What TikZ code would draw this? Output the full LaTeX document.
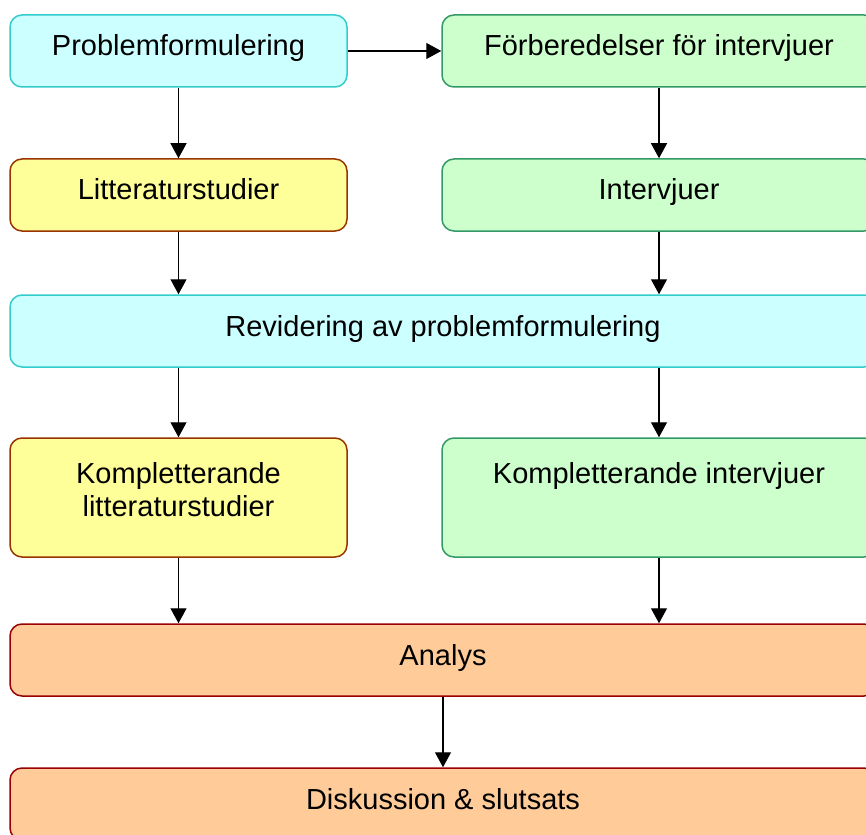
\documentclass[tikz,border=0pt]{standalone}
\usepackage{fontspec}
\setmainfont{Liberation Sans}
\usetikzlibrary{arrows.meta}

\definecolor{cyanfill}{HTML}{CCFFFF}
\definecolor{cyanline}{HTML}{33CCCC}
\definecolor{greenfill}{HTML}{CCFFCC}
\definecolor{greenline}{HTML}{339966}
\definecolor{yellowfill}{HTML}{FFFF99}
\definecolor{yellowline}{HTML}{993300}
\definecolor{orangefill}{HTML}{FFCC99}
\definecolor{orangeline}{HTML}{990000}

\tikzset{
  box/.style={rectangle, rounded corners=12pt, line width=1.5pt,
    inner sep=0pt, minimum height=72pt,
    font=\fontsize{29}{33}\selectfont, text height=16pt, text depth=6pt},
  cyanbox/.style={box, draw=cyanline, fill=cyanfill},
  greenbox/.style={box, draw=greenline, fill=greenfill},
  yellowbox/.style={box, draw=yellowline, fill=yellowfill},
  orangebox/.style={box, draw=orangeline, fill=orangefill},
  lefthalf/.style={minimum width=337pt},
  righthalf/.style={minimum width=434pt},
  fullrow/.style={minimum width=866pt},
  toplabel/.style={anchor=north, inner sep=0pt, align=center, yshift=-25pt,
    font=\fontsize{29}{33}\selectfont},
  flow/.style={line width=1.2pt, -{Triangle[length=15pt,width=16pt]}}
}

\begin{document}
\begin{tikzpicture}[x=1pt, y=-1pt]
  \useasboundingbox (0,0) rectangle (866,834);
  \clip (0,0) rectangle (866,834);

  % first row
  \node[cyanbox, lefthalf] (pf) at (178.5,51) {Problemformulering};
  \node[greenbox, righthalf] (fb) at (659,51) {Förberedelser för intervjuer};

  % second row
  \node[yellowbox, lefthalf] (lit) at (178.5,195) {Litteraturstudier};
  \node[greenbox, righthalf] (int) at (659,195) {Intervjuer};

  % revision
  \node[cyanbox, fullrow] (rev) at (443,331) {Revidering av problemformulering};

  % complementary work
  \node[yellowbox, lefthalf, minimum height=119pt] (klit) at (178.5,497.5) {};
  \node[toplabel] (klittext) at (klit.north) {Kompletterande\\litteraturstudier};
  \node[greenbox, righthalf, minimum height=119pt] (kint) at (659,497.5) {};
  \node[toplabel] (kinttext) at (kint.north) {Kompletterande intervjuer};

  % analysis and conclusions
  \node[orangebox, fullrow] (ana) at (443,660) {Analys};
  \node[orangebox, fullrow] (dis) at (443,804) {Diskussion \& slutsats};

  % connectors
  \draw[flow] (pf.east) -- (fb.west);
  \draw[flow] (pf.south) -- (lit.north);
  \draw[flow] (fb.south) -- (int.north);
  \draw[flow] (lit.south) -- (lit.south |- rev.north);
  \draw[flow] (int.south) -- (int.south |- rev.north);
  \draw[flow] (klit.north |- rev.south) -- (klit.north);
  \draw[flow] (kint.north |- rev.south) -- (kint.north);
  \draw[flow] (klit.south) -- (klit.south |- ana.north);
  \draw[flow] (kint.south) -- (kint.south |- ana.north);
  \draw[flow] (ana.south) -- (dis.north);
\end{tikzpicture}
\end{document}
